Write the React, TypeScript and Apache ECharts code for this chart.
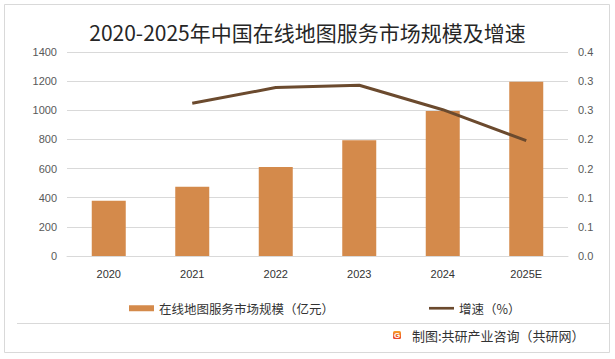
import React, { useEffect, useRef } from "react";
import * as echarts from "echarts";

const categories = ["2020", "2021", "2022", "2023", "2024", "2025E"];
const marketSize = [380, 475, 610, 795, 995, 1195];
const growthRate = [null, 0.262, 0.289, 0.293, 0.251, 0.198];
const rightTickLabels = ["0.0", "0.1", "0.1", "0.2", "0.2", "0.3", "0.3", "0.4"];

const titleText = "2020-2025年中国在线地图服务市场规模及增速";
const barName = "在线地图服务市场规模（亿元）";
const lineName = "增速（%）";
const sourceText = "制图:共研产业咨询（共研网）";

const CJK = '"Noto Sans CJK SC", "Noto Sans", sans-serif';

export default function App() {
  const ref = useRef<HTMLDivElement>(null);
  useEffect(() => {
    if (!ref.current) return;
    const chart = echarts.init(ref.current, null, { renderer: "svg" });
    chart.setOption({
      animation: false,
      backgroundColor: "#ffffff",
      title: {
        text: titleText,
        left: "center",
        top: 16,
        textStyle: { fontFamily: CJK, fontSize: 21, fontWeight: "normal", color: "#262626" },
      },
      legend: {
        left: 124,
        top: 297,
        itemWidth: 25,
        itemHeight: 6,
        itemGap: 95,
        symbolKeepAspect: true,
        textStyle: { fontFamily: CJK, fontSize: 12.5, color: "#333333" },
        data: [
          { name: barName, icon: "rect" },
          { name: lineName, icon: "path://M0,0H28V3H0Z" },
        ],
      },
      grid: { left: 67, right: 47, top: 52, bottom: 103 },
      xAxis: {
        type: "category",
        data: categories,
        axisLine: { lineStyle: { color: "#d9d9d9" } },
        axisTick: { show: false },
        axisLabel: { color: "#333333", fontSize: 11, margin: 12, fontFamily: "Liberation Sans, Arial" },
      },
      yAxis: [
        {
          type: "value",
          min: 0,
          max: 1400,
          interval: 200,
          axisLine: { show: false },
          axisTick: { show: false },
          splitLine: { lineStyle: { color: "#d9d9d9" } },
          axisLabel: {
            color: "#595959",
            fontSize: 11,
            margin: 10,
            fontFamily: "Liberation Sans, Arial",
            formatter: (v: number) => String(v),
          },
        },
        {
          type: "value",
          min: 0,
          max: 0.35,
          interval: 0.05,
          axisLine: { show: false },
          axisTick: { show: false },
          splitLine: { show: false },
          axisLabel: {
            color: "#595959",
            fontSize: 11,
            margin: 10,
            fontFamily: "Liberation Sans, Arial",
            formatter: (v: number) => rightTickLabels[Math.round(v / 0.05)] ?? "",
          },
        },
      ],
      series: [
        {
          name: barName,
          type: "bar",
          data: marketSize,
          barWidth: 34,
          itemStyle: { color: "#d48a4b" },
        },
        {
          name: lineName,
          type: "line",
          yAxisIndex: 1,
          data: growthRate,
          symbol: "none",
          lineStyle: { color: "#6b4a2e", width: 3 },
          itemStyle: { color: "#6b4a2e" },
        },
      ],
      graphic: [
        {
          type: "rect",
          shape: { x: 4.5, y: 4.5, width: 605, height: 348 },
          style: { fill: "none", stroke: "#d9d9d9", lineWidth: 1 },
          silent: true,
        },
        {
          type: "line",
          shape: { x1: 17, y1: 323.5, x2: 609, y2: 323.5 },
          style: { stroke: "#d9d9d9", lineWidth: 1 },
          silent: true,
        },
        {
          type: "rect",
          shape: { x: 393, y: 331, width: 8, height: 8, r: 1.5 },
          style: {
            fill: new echarts.graphic.LinearGradient(0, 0, 0, 1, [
              { offset: 0, color: "#f7a12a" },
              { offset: 1, color: "#e8412a" },
            ]),
          },
          silent: true,
        },
        {
          type: "text",
          x: 397,
          y: 335,
          style: {
            text: "G",
            fontSize: 8,
            fontWeight: "bold",
            fill: "#ffffff",
            align: "center",
            verticalAlign: "middle",
            fontFamily: "Liberation Sans, Arial",
          },
          silent: true,
        },
        {
          type: "text",
          x: 412,
          y: 335,
          style: {
            text: sourceText,
            fontSize: 13,
            fill: "#333333",
            fontFamily: CJK,
            verticalAlign: "middle",
          },
          silent: true,
        },
      ],
    });
    return () => chart.dispose();
  }, []);
  return (
    <div
      ref={ref}
      style={{ position: "fixed", left: 0, top: 0, width: 615, height: 359 }}
    />
  );
}
